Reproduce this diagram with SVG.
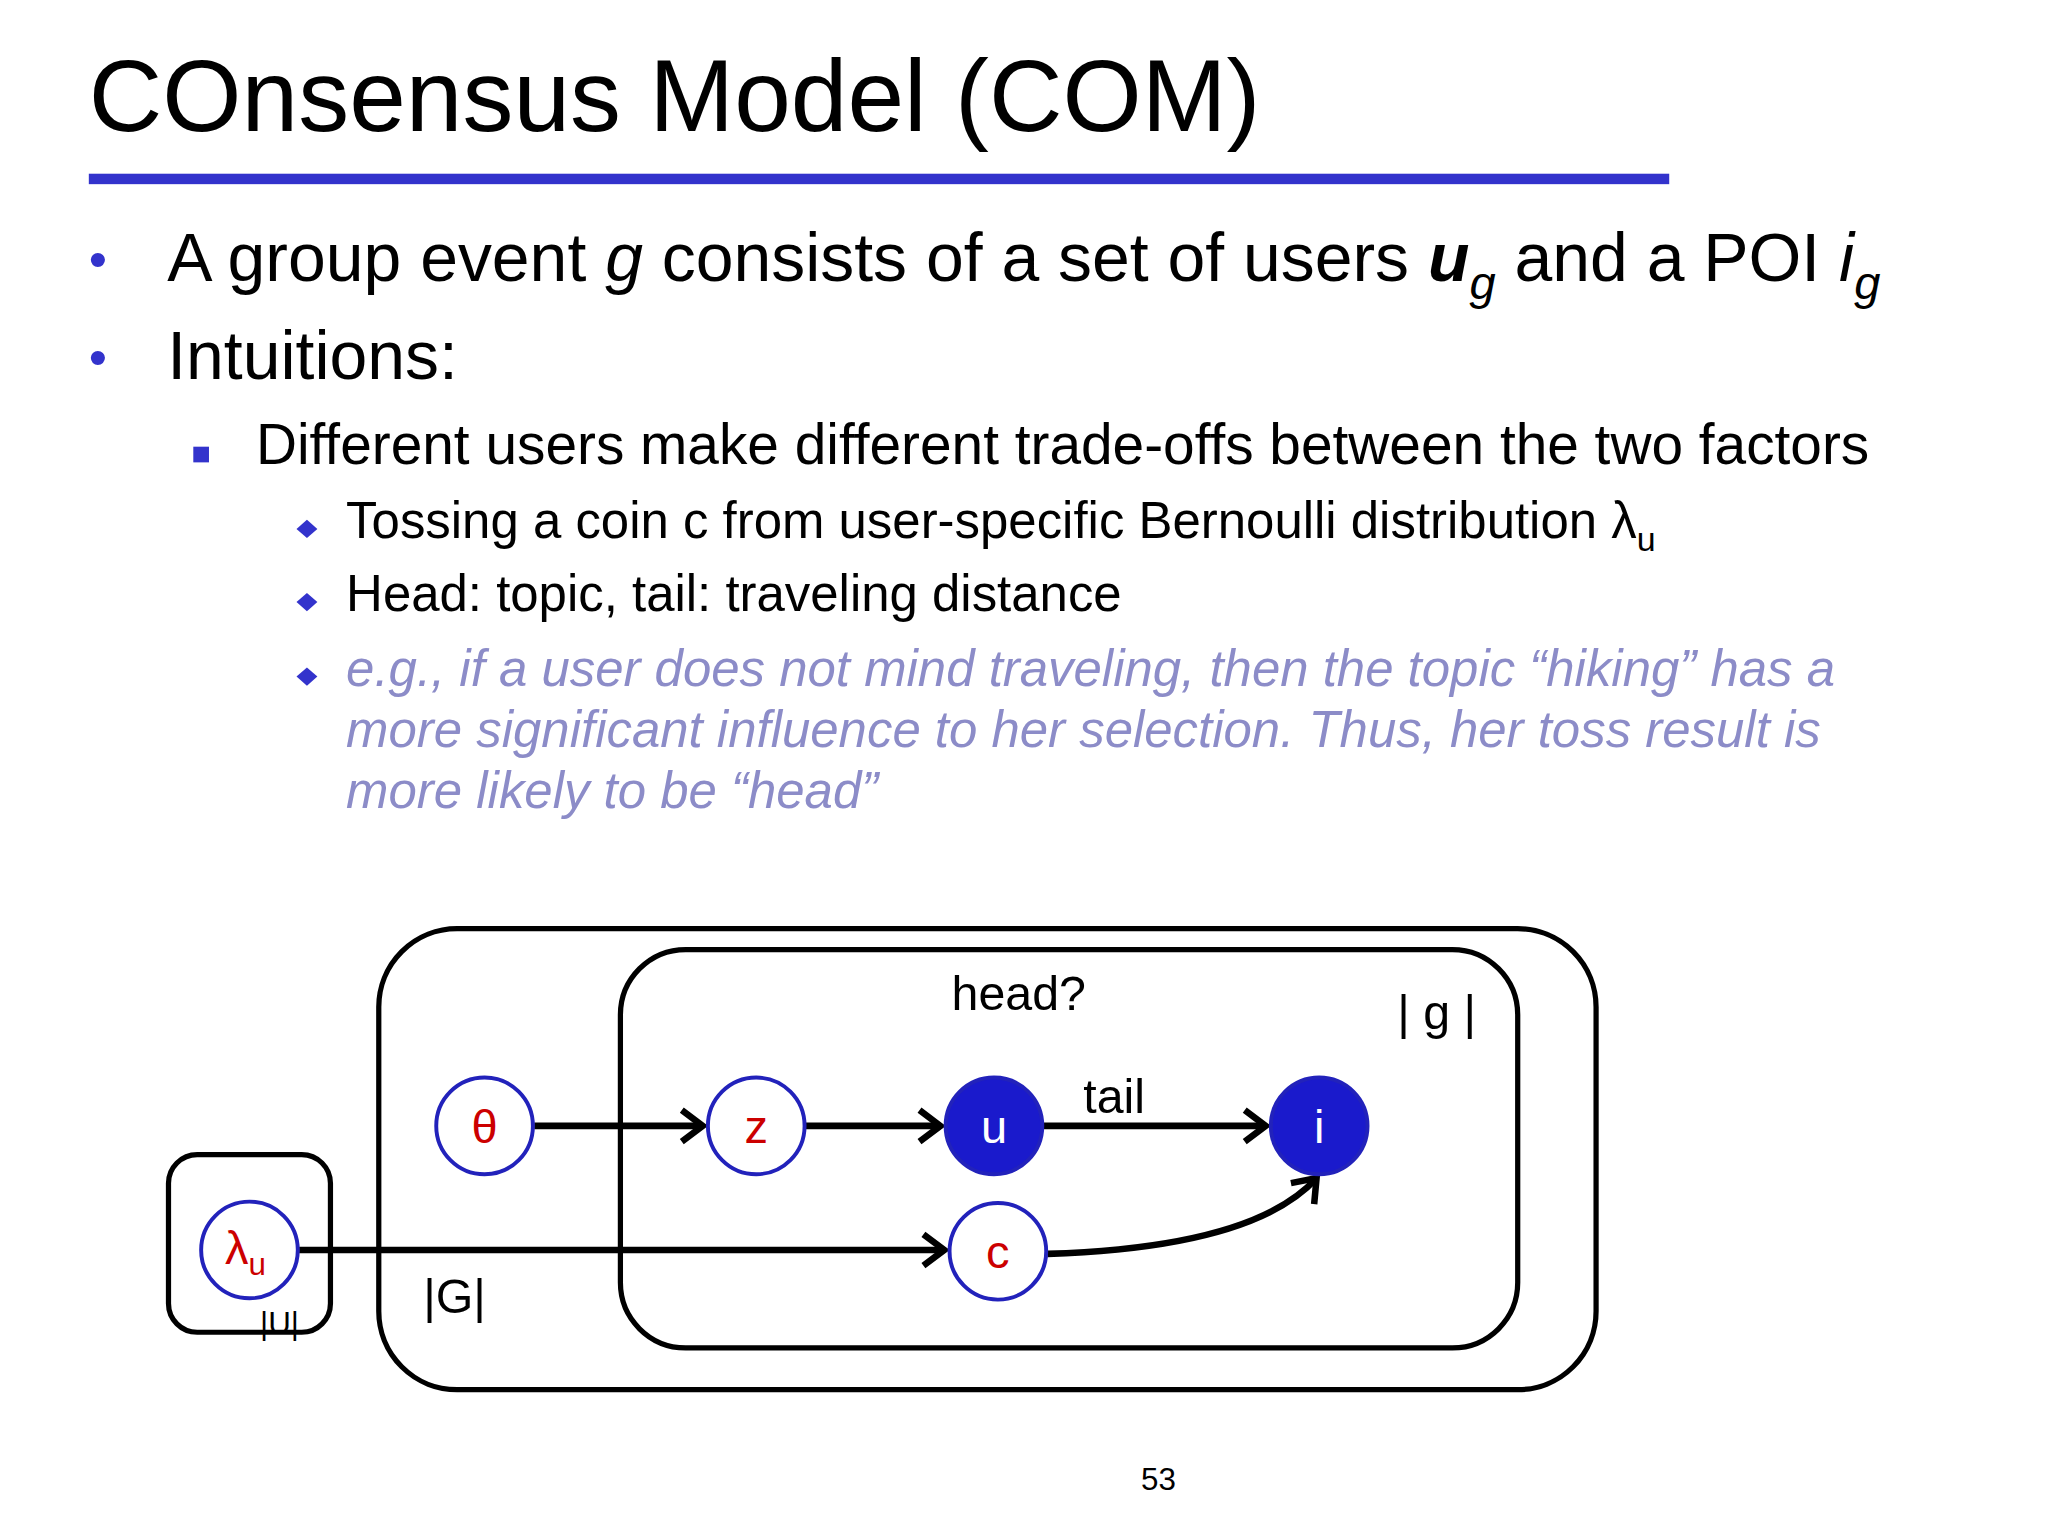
<svg xmlns="http://www.w3.org/2000/svg" width="2048" height="1536" viewBox="0 0 2048 1536">
<style>
text{font-family:"Liberation Sans",Arial,sans-serif}
.n{fill:#fff;stroke:#2222bb;stroke-width:3}
.f{fill:#1a1acc;stroke:#2222bb;stroke-width:3}
.r{fill:#cc0000;font-size:36px;text-anchor:middle}
.w{fill:#fff;font-size:36px;text-anchor:middle}
.box{fill:none;stroke:#000;stroke-width:4}
.e{stroke:#000;stroke-width:5;fill:none;marker-end:url(#a)}
.g{fill:#8c8cc8;font-style:italic;font-size:39px}
</style>
<defs><marker id="a" viewBox="-20 -15 24 30" refX="0" refY="0" markerWidth="24" markerHeight="30" orient="auto" markerUnits="userSpaceOnUse"><path d="M-16-12L0 0-16 12" fill="none" stroke="#000" stroke-width="5" stroke-linejoin="miter"/></marker></defs>
<rect width="2048" height="1536" fill="#fff"/>
<g transform="scale(1.30612)">
<text x="68" y="100" font-size="78">COnsensus Model (COM)</text>
<rect x="68" y="133" width="1210" height="8" fill="#3333cc"/>
<text x="68" y="212" font-size="40" fill="#3333cc">•</text>
<text x="128" y="215" font-size="52">A group event <tspan font-style="italic">g</tspan> consists of a set of users <tspan font-weight="bold" font-style="italic">u</tspan><tspan font-style="italic" font-size="36" dy="14">g</tspan><tspan dy="-14"> and a POI </tspan><tspan font-style="italic">i</tspan><tspan font-style="italic" font-size="36" dy="14">g</tspan></text>
<text x="68" y="287" font-size="40" fill="#3333cc">•</text>
<text x="128" y="290" font-size="52">Intuitions:</text>
<rect x="148" y="342" width="12" height="12" fill="#3333cc"/>
<text x="196" y="355" font-size="43.5">Different users make different trade-offs between the two factors</text>
<g fill="#3333cc"><path d="M235 398l8 7-8 7-8-7z"/><path d="M235 454l8 7-8 7-8-7z"/><path d="M235 511l8 7-8 7-8-7z"/></g>
<text x="265" y="412" font-size="39">Tossing a coin c from user-specific Bernoulli distribution λ<tspan font-size="26" dy="10">u</tspan></text>
<text x="265" y="468" font-size="39">Head: topic, tail: traveling distance</text>
<text x="265" y="525" class="g">e.g., if a user does not mind traveling, then the topic “hiking” has a</text>
<text x="265" y="572" class="g">more significant influence to her selection. Thus, her toss result is</text>
<text x="265" y="619" class="g">more likely to be “head”</text>
<g id="plates">
<rect class="box" x="290" y="711" width="932" height="353" rx="60"/>
<rect class="box" x="475" y="727" width="687" height="305" rx="50"/>
<rect class="box" x="129" y="884" width="124" height="136" rx="22"/>
<text x="780" y="773" font-size="37" text-anchor="middle">head?</text>
<text x="1100" y="788" font-size="37" text-anchor="middle">| g |</text>
<text x="853" y="852" font-size="37" text-anchor="middle">tail</text>
<text x="348" y="1005" font-size="37" text-anchor="middle">|G|</text>
<text x="214" y="1021" font-size="24" text-anchor="middle">|U|</text>
</g>
<g id="connectors">
<path class="e" d="M409 862H538"/>
<path class="e" d="M617 862H720"/>
<path class="e" d="M799 862H969"/>
<path class="e" d="M229 957H723"/>
<path class="e" d="M802 960Q960 955 1008 902"/>
</g>
<g id="theta"><circle class="n" cx="371" cy="862" r="37"/><text class="r" x="371" y="875">θ</text></g>
<g id="z"><circle class="n" cx="579" cy="862" r="37"/><text class="r" x="579" y="875">z</text></g>
<g id="u"><circle class="f" cx="761" cy="862" r="37"/><text class="w" x="761" y="875">u</text></g>
<g id="i"><circle class="f" cx="1010" cy="862" r="37"/><text class="w" x="1010" y="875">i</text></g>
<g id="c"><circle class="n" cx="764" cy="958" r="37"/><text class="r" x="764" y="971">c</text></g>
<g id="lambda"><circle class="n" cx="191" cy="957" r="37"/><text class="r" x="188" y="968">λ<tspan font-size="24" dy="8">u</tspan></text></g>
<text x="887" y="1141" font-size="24" text-anchor="middle">53</text>
</g>
</svg>
